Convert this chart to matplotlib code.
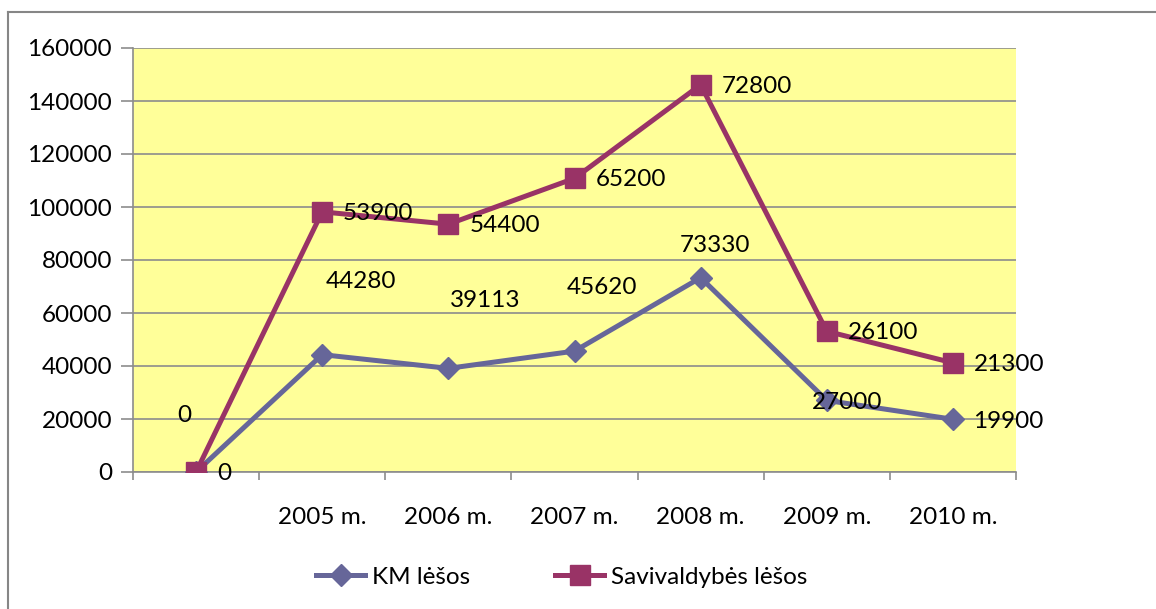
import matplotlib
matplotlib.use('Agg')
import matplotlib.pyplot as plt
from matplotlib.lines import Line2D
import numpy as np

# data (stacked line: second series sits on top of the first)
categories = ['', '2005 m.', '2006 m.', '2007 m.', '2008 m.', '2009 m.', '2010 m.']
km_lesos = [0, 44280, 39113, 45620, 73330, 27000, 19900]
sav_lesos = [0, 53900, 54400, 65200, 72800, 26100, 21300]
y_ticks = [0, 20000, 40000, 60000, 80000, 100000, 120000, 140000, 160000]

# label offsets (pixels) for the KM labels, they are scattered in the original
km_label_offsets = [(-12, 56), (39, 73), (37, 68), (27, 64), (14, 32), (20, -2), (55, -2)]

plt.rcParams['font.family'] = ['Lato', 'DejaVu Sans']
km_color = '#666699'
sav_color = '#993366'
fs = 17.5

fig = plt.figure(figsize=(11.56, 6.09), dpi=100)
ax = fig.add_axes([133 / 1156, 1 - 472 / 609, 883 / 1156, 424 / 609])
ax.set_facecolor('#FFFF99')

x = np.arange(len(categories))
km = np.array(km_lesos)
top = km + np.array(sav_lesos)

ax.plot(x, km, color=km_color, lw=3.6, marker='D', ms=11, zorder=3)
ax.plot(x, top, color=sav_color, lw=3.6, marker='s', ms=14, zorder=4)

for i, v in enumerate(km_lesos):
    dx, dy = km_label_offsets[i]
    ax.annotate(str(v), (x[i], km[i]), xytext=(dx * 0.72, dy * 0.72),
                textcoords='offset points', ha='center', va='center', fontsize=fs, zorder=5)
for i, v in enumerate(sav_lesos):
    ax.annotate(str(v), (x[i], top[i]), xytext=(15, -1),
                textcoords='offset points', ha='left', va='center', fontsize=fs, zorder=5)

ax.set_xlim(-0.5, len(categories) - 0.5)
ax.set_ylim(0, 160000)
ax.set_yticks(y_ticks)
ax.set_yticklabels([str(t) for t in y_ticks], fontsize=fs)
ax.yaxis.grid(True, color='#8c8c8c', lw=1.2)
ax.set_axisbelow(True)

ax.set_xticks(x)
ax.set_xticklabels(categories, fontsize=fs)
ax.set_xticks(np.arange(len(categories) + 1) - 0.5, minor=True)
ax.tick_params(axis='x', which='major', length=0, pad=25)
ax.tick_params(axis='x', which='minor', length=6, color='#8c8c8c', width=1.2)
ax.tick_params(axis='y', length=9, color='#8c8c8c', width=1.2, pad=6)

for s in ['top', 'right']:
    ax.spines[s].set_visible(False)
for s in ['left', 'bottom']:
    ax.spines[s].set_color('#8c8c8c')
    ax.spines[s].set_linewidth(1.2)

handles = [Line2D([], [], color=km_color, lw=3.6, marker='D', ms=11),
           Line2D([], [], color=sav_color, lw=3.6, marker='s', ms=14)]
fig.legend(handles, ['KM lėšos', 'Savivaldybės lėšos'], loc='center',
           bbox_to_anchor=(562 / 1156, 1 - 577 / 609), ncol=2, frameon=False,
           fontsize=fs, handlelength=2.0, handletextpad=0.3, columnspacing=3.5)

# outer chart frame (cut off at right and bottom)
fig.add_artist(Line2D([8 / 1156, 8 / 1156], [0, 1 - 12 / 609], color='#868686', lw=1.5))
fig.add_artist(Line2D([8 / 1156, 1], [1 - 12 / 609, 1 - 12 / 609], color='#868686', lw=1.5))

fig.savefig('out.png', dpi=100, facecolor='white')
